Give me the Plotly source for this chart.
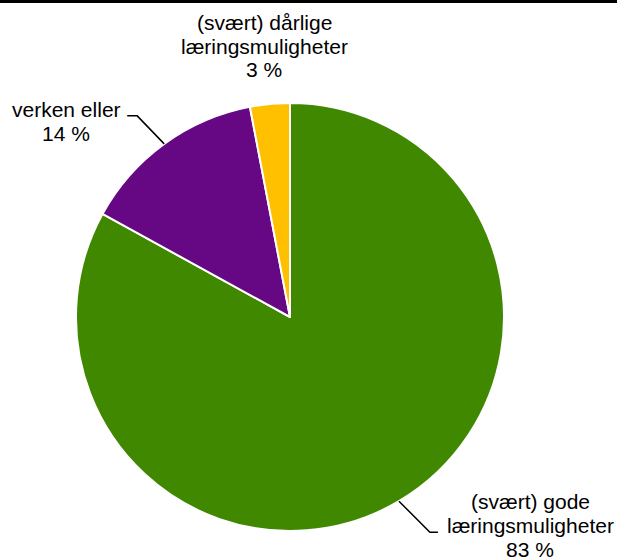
import math
import plotly.graph_objects as go

# Data
labels = ['(svært) gode læringsmuligheter', 'verken eller', '(svært) dårlige læringsmuligheter']
values = [83, 14, 3]
colors = ['#3f8800', '#660883', '#ffc000']
label_lines = [['(svært) gode', 'læringsmuligheter', '83 %'],
               ['verken eller', '14 %'],
               ['(svært) dårlige', 'læringsmuligheter', '3 %']]

W, H = 617, 558
cx, cy, r = 290, 317, 214  # pie centre and radius in pixels


def px(x):
    return x / W


def py(y):
    return 1 - y / H


fig = go.Figure()
fig.add_trace(go.Pie(
    labels=labels,
    values=values,
    sort=False,
    direction='clockwise',
    rotation=0,
    marker=dict(colors=colors, line=dict(color='white', width=2)),
    textinfo='none',
    hoverinfo='label+percent',
    domain=dict(x=[px(cx - r), px(cx + r)], y=[py(cy + r), py(cy - r)]),
    showlegend=False,
))

# label placement (centre x, first line y in pixels) and leader line style
label_pos = [(530, 501), (66, 110), (264, 22)]
line_gap = 24
elbow = [(31, 31, 8), (-27, -28, -10), None]  # diagonal dx, dy, horizontal stub

total = sum(values)
cum = 0
shapes = [dict(type='line', xref='paper', yref='paper', x0=0, x1=1,
               y0=py(1.5), y1=py(1.5), line=dict(color='black', width=3))]
annotations = []
for v, lines, pos, el in zip(values, label_lines, label_pos, elbow):
    mid = (cum + v / 2) / total * 2 * math.pi
    cum += v
    sx = cx + r * math.sin(mid)
    sy = cy - r * math.cos(mid)
    if el:
        ex, ey = sx + el[0], sy + el[1]
        hx = ex + el[2]
        shapes.append(dict(type='path', xref='paper', yref='paper',
                           path=f'M {px(sx)},{py(sy)} L {px(ex)},{py(ey)} L {px(hx)},{py(ey)}',
                           line=dict(color='black', width=1.5)))
    for i, t in enumerate(lines):
        annotations.append(dict(x=px(pos[0]), y=py(pos[1] + i * line_gap),
                                xref='paper', yref='paper',
                                text=t, showarrow=False, xanchor='center', yanchor='middle',
                                font=dict(family='Liberation Sans, Arial', size=21, color='black')))

fig.update_layout(
    width=W, height=H,
    margin=dict(l=0, r=0, t=0, b=0),
    paper_bgcolor='white',
    plot_bgcolor='white',
    shapes=shapes,
    annotations=annotations,
)

fig.write_html("out.html", config={'displayModeBar': False},
               post_script="document.body.style.margin='0';")
